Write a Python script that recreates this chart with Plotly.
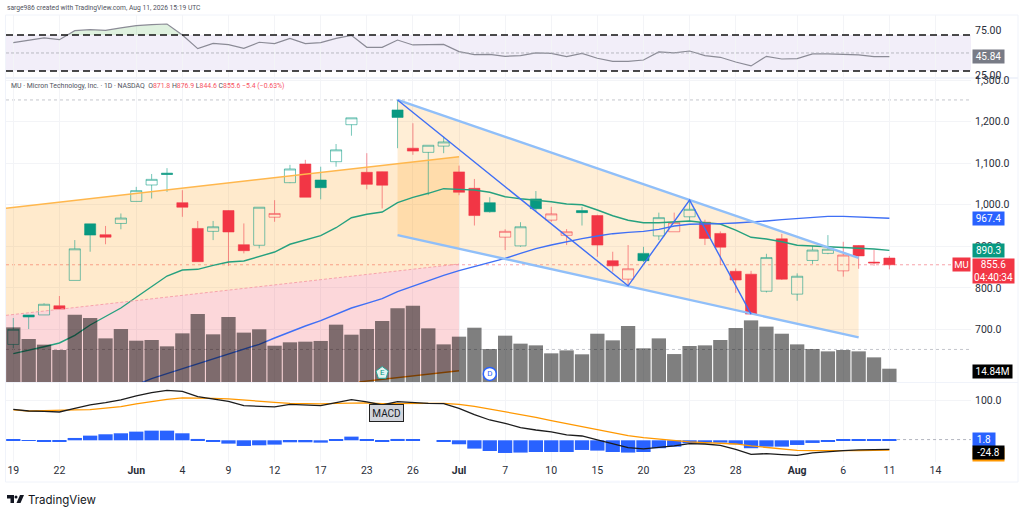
import plotly.graph_objects as go

# 每根K线的序号, 0 = 5月19日
bars = list(range(58))
tick_pos = [0, 3, 8, 11, 14, 17, 20, 23, 26, 29, 32, 35, 38, 41, 44, 47, 51, 54, 57, 60]
tick_text = ['19', '22', '<b>Jun</b>', '4', '9', '12', '17', '23', '26', '<b>Jul</b>', '7', '10',
             '15', '20', '23', '28', '<b>Aug</b>', '6', '11', '14']

opens = [664, 735, 735, 757, 818, 954, 928, 955, 1008, 1047.5, 1076, 1005, 943, 936, 986, 904, 902.5, 970, 1053,
         1098, 1059.5, 1103.5, 1192.5, 1078, 1079.5, 1228, 1136, 1126, 1141, 1079, 1039.5, 1005, 922, 901, 1014,
         963, 926.5, 986, 974, 865.5, 821, 883, 925, 935, 971, 958, 931, 840, 833, 792, 918, 785, 866, 883, 841,
         902, 862, 871.8]
highs = [727.6, 735, 763, 780.5, 915, 954, 949, 979, 1043, 1074, 1088, 1035, 961, 961, 987, 955, 994, 1011, 1096,
         1108, 1091.5, 1146, 1209, 1124, 1080, 1252, 1196, 1143, 1164, 1094, 1062, 1018, 941, 958, 1033, 995,
         941.5, 995, 976, 887, 903, 899, 981, 981, 1011, 964, 936, 847, 841, 882, 930, 835, 901, 927, 911, 903,
         891, 876.9]
lows = [655, 701, 735, 749, 818, 887, 905, 941, 1008, 1015, 1031, 971, 863, 915, 853, 883, 895, 959, 1052, 1018,
        1013, 1091.5, 1166, 1037, 991, 1136, 1120, 1023, 1124, 1023, 950, 981, 891, 899, 985, 959, 903, 950, 875,
        839, 807, 862, 915, 935, 959, 903, 855, 788, 737, 789, 819, 769, 857.5, 881, 827, 846, 853, 844.6]
closes = [700.4, 730, 760.6, 749, 894, 927, 922, 968, 1034, 1061, 1073, 994, 863, 947, 934.5, 889.5, 994, 979, 1086,
          1018, 1041, 1132, 1209, 1049, 1047, 1210, 1129, 1143, 1151, 1030, 974, 983, 936, 947, 990.5, 978, 935,
          981, 903, 853, 846, 865.5, 969, 957, 989, 919, 898, 819, 737, 873, 821, 828, 891, 893, 879, 877, 860,
          855.6]

# 成交量 (百万)
volume = [61.0, 48.0, 41.7, 35.7, 75.1, 71.4, 48.7, 59.1, 46.1, 46.9, 39.8, 54.3, 75.9, 53.2, 72.5, 55.1, 58.8,
          40.5, 44.3, 45.0, 45.8, 64.0, 52.8, 59.1, 68.1, 82.2, 85.2, 59.9, 42.0, 50.6, 60.6, 36.8, 51.7, 42.8,
          40.9, 32.0, 35.3, 30.9, 53.9, 46.5, 62.5, 37.6, 48.7, 31.2, 40.2, 40.9, 46.9, 60.3, 68.8, 61.8, 53.9,
          42.0, 36.8, 34.2, 35.7, 34.2, 27.5, 14.84]

ma_green = [641.8, 651, 658.6, 667.5, 686, 710.8, 730.7, 751.7, 777.4, 802.9, 828.6, 843, 844.7, 854.3, 862.3,
            864.7, 876, 886.3, 904.9, 914.5, 925.5, 944.7, 968.8, 977, 982.5, 1005, 1017.9, 1027.5, 1038.6, 1037,
            1035.4, 1030, 1019.3, 1014.5, 1011.4, 1007.3, 1001.8, 1000, 987.3, 973.6, 962.6, 956.8, 956.8, 958.5,
            960.9, 956.8, 953.7, 939.2, 921.7, 917.6, 911.1, 902.5, 900.8, 899.1, 896.7, 896, 893.6, 890.3]
# 蓝色均线从第8根开始
ma_blue_x = bars[8:]
ma_blue = [567, 581.7, 593.7, 605.7, 617, 629, 641, 653, 664.3, 679.5, 694.7, 708.4, 721.2, 735.6, 751.6, 762.9,
           774.1, 791, 804.5, 818.2, 830.2, 841.4, 851.1, 859.9, 871.1, 883.1, 894.3, 903.2, 911.2, 918.4, 924.8,
           930.4, 933.6, 936, 940.8, 948.9, 952.9, 952.9, 954.5, 956.1, 957.7, 960.9, 964.1, 967.3, 969.7, 972.1,
           972.1, 970.5, 969.7, 967.4]

rsi = [61.5, 64.4, 66.7, 64.8, 74.8, 75.9, 75.2, 77.8, 80.4, 81.5, 82.2, 70, 54.8, 60.7, 59.3, 55.2, 61.9, 60.4,
       66.3, 60.4, 61.5, 66.3, 69.6, 56.3, 56.3, 64.4, 58.9, 59.3, 59.6, 51.5, 48.1, 48.5, 46.3, 47, 50, 49.6,
       45.9, 49.6, 44.1, 40.7, 40.7, 42.2, 51.1, 50, 52.2, 47, 45.2, 40, 35.6, 46.3, 43.3, 43.7, 48.9, 48.9, 48.1,
       47.8, 45.9, 45.84]
# RSI 超买区域
rsi_over_x = [3.52, 4, 5, 6, 7, 8, 9, 10, 11, 3.52]
rsi_over_y = [70, 74.8, 75.9, 75.2, 77.8, 80.4, 81.5, 82.2, 70, 70]

macd_hist = [1.7, -1.7, -2.5, -4.2, 5.9, 11.8, 15.2, 17.7, 21.9, 24.4, 24.4, 17.7, 3.4, -4.2, -8.4, -14.3, -12.6,
             -10.9, -5, -5, -5.9, 2.5, 9.3, 1.7, -4.2, 3.4, 1.7, 0, -2.5, -10, -21, -27, -32, -31, -29.5, -29.5,
             -29.5, -24.4, -26, -29.5, -31, -29.5, -20, -16, -7.6, -5.9, -5.9, -10, -20, -16, -16, -11.8, -6.7,
             -3.4, 1.7, 2.5, 2.5, 1.8]
macd_line = [78.3, 74, 73.2, 71.5, 80.8, 89.2, 95.1, 101.9, 112, 120.4, 126.3, 123.7, 110.3, 104.4, 98.5, 87.5,
             86.7, 84.2, 90.9, 89.2, 87.5, 95.1, 102.7, 96.8, 89.2, 97.6, 95.1, 93.4, 92.6, 80.8, 64.8, 51.3, 42.9,
             32, 26, 21, 13.5, 10.9, 0.8, -9.3, -18.5, -21.9, -18.5, -14.3, -8.4, -9.3, -12.6, -22.7, -35.4, -33.7,
             -36.2, -37.9, -32, -28.6, -26.1, -24.4, -23.6, -23]
macd_signal = [76.6, 74, 74.9, 74.9, 76.6, 77.4, 80.8, 85, 91.8, 97.6, 103.5, 106.9, 106.9, 106, 104.4, 101, 98.5,
               96, 93.4, 92.6, 91.8, 93.4, 94.3, 94.3, 92.6, 93.4, 94.3, 93.4, 93.4, 90.9, 85.9, 79.1, 70.7, 64.8,
               58, 49.7, 42.1, 35.4, 27.8, 19.4, 11.8, 6.7, 2.5, -0.8, -4.2, -5.9, -6.7, -9.3, -14.3, -18.5, -21.9,
               -25.3, -26.1, -26.9, -26.1, -26.1, -25.3, -24.8]

# 画线工具
zigzag_x = [25, 40, 44, 48]
zigzag_y = [1252, 805, 1011, 737]
wedge_x = [25, 55, 55, 25, 25]
wedge_y = [1252, 872, 681, 927, 1252]
wedge_top_x = [25, 55]
wedge_top_y = [1252, 872]
wedge_low_x = [25, 55]
wedge_low_y = [927, 681]
band_x = [-0.475, 29, 29, -0.475, -0.475]
band_y = [991.5, 1115.5, 857.5, 734, 991.5]
band_top_y = [991.5, 1115.5]
band_mid_y = [734, 857.5]
band_end_x = [-0.475, 29]
pink_x = [-0.475, 29, 29, 22.5, -0.475, -0.475]
pink_y = [734, 857.5, 601, 574, 574, 734]
band_low_x = [22.5, 29]
band_low_y = [574, 601]

X0, X1 = -0.475, 62.31


def fx(px):
    return px / 1024


def fy(px):
    return 1 - px / 516


fig = go.Figure()

# 底层: 区域填充
fig.add_trace(go.Scatter(x=pink_x, y=pink_y, fill='toself', fillcolor='rgba(242,54,69,0.2)', mode='none', yaxis='y'))
fig.add_trace(go.Scatter(x=band_x, y=band_y, fill='toself', fillcolor='rgba(255,152,0,0.2)', mode='none', yaxis='y'))
fig.add_trace(go.Scatter(x=wedge_x, y=wedge_y, fill='toself', fillcolor='rgba(255,152,0,0.16)', mode='none', yaxis='y'))

# K线: 颜色看收盘价和前一日收盘价, 空心看收盘和开盘
green_idx = [i for i in bars if i == 0 or closes[i] >= closes[i - 1]]
red_idx = [i for i in bars if i not in green_idx]
for idx, solid, wick in [(green_idx, '#089981', 'rgba(8,153,129,0.55)'), (red_idx, '#f23645', 'rgba(242,54,69,0.55)')]:
    fig.add_trace(go.Candlestick(
        x=idx,
        open=[opens[i] for i in idx],
        high=[highs[i] for i in idx],
        low=[lows[i] for i in idx],
        close=[closes[i] for i in idx],
        whiskerwidth=0,
        increasing=dict(line=dict(color=wick, width=1), fillcolor='rgba(255,255,255,0)'),
        decreasing=dict(line=dict(color=wick, width=1), fillcolor=solid),
        yaxis='y2',
    ))

# 线条
fig.add_trace(go.Scatter(x=bars, y=ma_green, mode='lines', line=dict(color='#26a17f', width=1.4), yaxis='y2'))
fig.add_trace(go.Scatter(x=ma_blue_x, y=ma_blue, mode='lines', line=dict(color='#3f6ff5', width=1.4), yaxis='y2'))
fig.add_trace(go.Scatter(x=band_end_x, y=band_top_y, mode='lines', line=dict(color='#ffb74d', width=1.5), yaxis='y2'))
fig.add_trace(go.Scatter(x=band_end_x, y=band_mid_y, mode='lines', line=dict(color='#f7a3aa', width=1, dash='3px,2px'), yaxis='y2'))
fig.add_trace(go.Scatter(x=band_low_x, y=band_low_y, mode='lines', line=dict(color='#f57c00', width=1.5), yaxis='y2'))
fig.add_trace(go.Scatter(x=wedge_top_x, y=wedge_top_y, mode='lines', line=dict(color='#90bff9', width=2.4), yaxis='y2'))
fig.add_trace(go.Scatter(x=wedge_low_x, y=wedge_low_y, mode='lines', line=dict(color='#90bff9', width=2.4), yaxis='y2'))
fig.add_trace(go.Scatter(x=zigzag_x, y=zigzag_y, mode='lines', line=dict(color='#3f6ff5', width=1.4), yaxis='y2'))

# 成交量盖在最上面, 半透明黑色
fig.add_trace(go.Bar(x=bars, y=volume, width=0.93, marker=dict(color='rgba(0,0,0,0.5)', line=dict(width=0)), yaxis='y3'))

# 财报和分红标记
fig.add_trace(go.Scatter(x=[24], y=[10], mode='markers+text', text=['E'], textposition='middle center',
                         textfont=dict(size=8, color='#089981', family='Roboto'),
                         marker=dict(symbol='pentagon', size=13, color='#e3f4f0', line=dict(color='#26a69a', width=1)),
                         yaxis='y3'))
fig.add_trace(go.Scatter(x=[31], y=[9], mode='markers+text', text=['D'], textposition='middle center',
                         textfont=dict(size=8, color='#2962ff', family='Roboto'),
                         marker=dict(symbol='circle', size=13, color='#ffffff', line=dict(color='#2962ff', width=1.5)),
                         yaxis='y3'))

# RSI
fig.add_trace(go.Scatter(x=rsi_over_x, y=rsi_over_y, fill='toself', fillcolor='rgba(76,175,80,0.18)', mode='none', yaxis='y4'))
fig.add_trace(go.Scatter(x=bars, y=rsi, mode='lines', line=dict(color='#8b8b96', width=1.2), yaxis='y4'))

# MACD
fig.add_trace(go.Bar(x=bars, y=macd_hist, width=0.93, marker=dict(color='#2962ff', line=dict(width=0)), yaxis='y5'))
fig.add_trace(go.Scatter(x=bars, y=macd_signal, mode='lines', line=dict(color='#ff9800', width=1.3), yaxis='y5'))
fig.add_trace(go.Scatter(x=bars, y=macd_line, mode='lines', line=dict(color='#1c1c1c', width=1.3), yaxis='y5'))

font_main = 'Roboto, sans-serif'
pane_top = [fy(382), fy(78)]
grid = '#f3f4f7'
hidden = dict(domain=pane_top, overlaying='y', visible=False, range=[573.7, 1304.8])

fig.update_layout(
    width=1024,
    height=516,
    margin=dict(l=0, r=0, t=0, b=0, autoexpand=False),
    paper_bgcolor='white',
    plot_bgcolor='white',
    showlegend=False,
    boxgap=0.15,
    boxgroupgap=0.15,
    font=dict(family=font_main, size=11, color='#2a2e39'),
    xaxis=dict(
        domain=[fx(6), fx(971)], range=[X0, X1], anchor='y5', rangeslider=dict(visible=False),
        tickmode='array', tickvals=tick_pos, ticktext=tick_text, showgrid=True, gridcolor=grid, gridwidth=1,
        zeroline=False, showline=False, ticks='', tickfont=dict(size=10.5), ticklabelstandoff=0,
    ),
    yaxis=dict(
        domain=pane_top, range=[573.7, 1304.8], side='right', anchor='free', position=fx(971),
        tickmode='array', tickvals=[700, 800, 900, 1000, 1100, 1200, 1300], tickformat=',.1f',
        gridcolor=grid, zeroline=False, ticks='', tickfont=dict(size=10.5), ticklabelstandoff=3,
    ),
    yaxis2=hidden,
    yaxis3=dict(domain=pane_top, overlaying='y', visible=False, range=[0, 339.3]),
    yaxis4=dict(
        domain=[fy(77), fy(15)], range=[23.3, 92.2], side='right', anchor='free', position=fx(971),
        tickmode='array', tickvals=[25, 75], tickformat='.2f', showgrid=False, zeroline=False,
        ticks='', tickfont=dict(size=10.5), ticklabelstandoff=3,
    ),
    yaxis5=dict(
        domain=[fy(462), fy(383)], range=[-54.8, 144.7], side='right', anchor='free', position=fx(971),
        tickmode='array', tickvals=[100], tickformat='.1f', gridcolor=grid, zeroline=False,
        ticks='', tickfont=dict(size=10.5), ticklabelstandoff=3,
    ),
)

# RSI 通道和虚线
fig.add_shape(type='rect', xref='x', yref='y4', x0=X0, x1=X1, y0=30, y1=70, fillcolor='rgba(126,87,194,0.1)',
              line=dict(width=0), layer='below')
for level, color, width, dash in [(70, '#111111', 1.4, '7px,4px'), (30, '#111111', 1.4, '7px,4px'),
                                  (50, '#a9abb3', 0.8, '3px,2px')]:
    fig.add_shape(type='line', xref='x', yref='y4', x0=X0, x1=X1, y0=level, y1=level,
                  line=dict(color=color, width=width, dash=dash))

# 价格水平虚线
for level, color in [(1252, '#c4c6cc'), (855.6, '#f7a3aa'), (652, '#c4c6cc')]:
    fig.add_shape(type='line', xref='x', yref='y', x0=X0, x1=X1, y0=level, y1=level,
                  line=dict(color=color, width=1, dash='dot'), layer='below')
fig.add_shape(type='line', xref='x', yref='y5', x0=57.5, x1=X1, y0=1.8, y1=1.8,
              line=dict(color='#b2b5be', width=1, dash='3px,3px'))

# 面板边框
fig.add_shape(type='rect', xref='paper', yref='paper', x0=fx(5.5), x1=fx(1018), y0=fy(482), y1=fy(15),
              line=dict(color='#f0f3fa', width=1), layer='below')
fig.add_shape(type='line', xref='paper', yref='paper', x0=fx(5.5), x1=fx(1018), y0=fy(78), y1=fy(78),
              line=dict(color='#f0f3fa', width=2), layer='below')
fig.add_shape(type='line', xref='paper', yref='paper', x0=fx(5.5), x1=fx(1018), y0=fy(382.5), y1=fy(382.5),
              line=dict(color='#f0f3fa', width=1), layer='below')


def tag(text, yref, y, bg, w=31, h=13, shift=0, align='center'):
    fig.add_annotation(text=text, xref='paper', yref=yref, x=fx(972), y=y, xanchor='left', yanchor='middle',
                       yshift=shift, showarrow=False, bgcolor=bg, borderpad=0, width=w, height=h, align=align,
                       font=dict(size=10, color='white', family=font_main))


tag('45.84', 'y4', 45.84, '#787b86')
tag('967.4', 'y', 967.4, '#2962ff')
tag('890.3', 'y', 890.3, '#089981')
tag('855.6<br>04:40:34', 'y', 855.6, '#f23645', w=41, h=24, shift=-6, align='center')
tag('14.84M', 'y', 600, '#000000', w=39)
tag('1.8', 'y5', 1.8, '#2962ff', w=22)
tag('-24.8', 'y5', -24.8, '#ff9800', shift=-4.5)
tag('-24.8', 'y5', -24.8, '#000000', shift=-2.5)
fig.add_annotation(text='MU', xref='paper', yref='y', x=fx(970.5), y=855.6, xanchor='right', yanchor='middle',
                   showarrow=False, bgcolor='#f23645', borderpad=0, width=17, height=13,
                   font=dict(size=9.5, color='white', family=font_main))

# 标题和说明文字
fig.add_annotation(text='sarge986 created with TradingView.com, Aug 11, 2026 15:19 UTC', xref='paper', yref='paper',
                   x=fx(5), y=fy(8), xanchor='left', yanchor='middle', showarrow=False,
                   font=dict(size=6.7, color='#50535e', family=font_main))
red = '#f7525f'
legend = ('MU · Micron Technology, Inc. · 1D · NASDAQ  '
          f'O<span style="color:{red}">871.8</span> H<span style="color:{red}">876.9</span> '
          f'L<span style="color:{red}">844.6</span> C<span style="color:{red}">855.6</span> '
          f'<span style="color:{red}">−5.4 (−0.63%)</span>')
fig.add_annotation(text=legend, xref='paper', yref='paper', x=fx(9), y=fy(86), xanchor='left', yanchor='middle',
                   showarrow=False, font=dict(size=6.9, color='#50535e', family=font_main))
fig.add_annotation(text='MACD', xref='x', yref='paper', x=24.3, y=fy(422), showarrow=False, bgcolor='#d1d4dc',
                   bordercolor='#222222', borderwidth=1, borderpad=0, width=33, height=16,
                   font=dict(size=10, color='#131722', family=font_main))
fig.add_annotation(text='TradingView', xref='paper', yref='paper', x=fx(26), y=fy(499.5), xanchor='left',
                   yanchor='middle', showarrow=False, font=dict(size=11.5, color='#131722', family='Inter, sans-serif'))

# TradingView 图标
fig.add_shape(type='path', xref='paper', yref='paper',
              path=f'M {fx(7)} {fy(495)} L {fx(14)} {fy(495)} L {fx(14)} {fy(503)} L {fx(10.5)} {fy(503)} '
                   f'L {fx(10.5)} {fy(498.5)} L {fx(7)} {fy(498.5)} Z',
              fillcolor='#131722', line=dict(width=0))
fig.add_shape(type='circle', xref='paper', yref='paper', x0=fx(14.5), x1=fx(17.5), y0=fy(498.5), y1=fy(495.5),
              fillcolor='#131722', line=dict(width=0))
fig.add_shape(type='path', xref='paper', yref='paper',
              path=f'M {fx(20)} {fy(495)} L {fx(24)} {fy(495)} L {fx(20.5)} {fy(503)} L {fx(16.5)} {fy(503)} Z',
              fillcolor='#131722', line=dict(width=0))

fig.write_html("out.html", config=dict(displayModeBar=False), post_script="document.body.style.margin='0';")
